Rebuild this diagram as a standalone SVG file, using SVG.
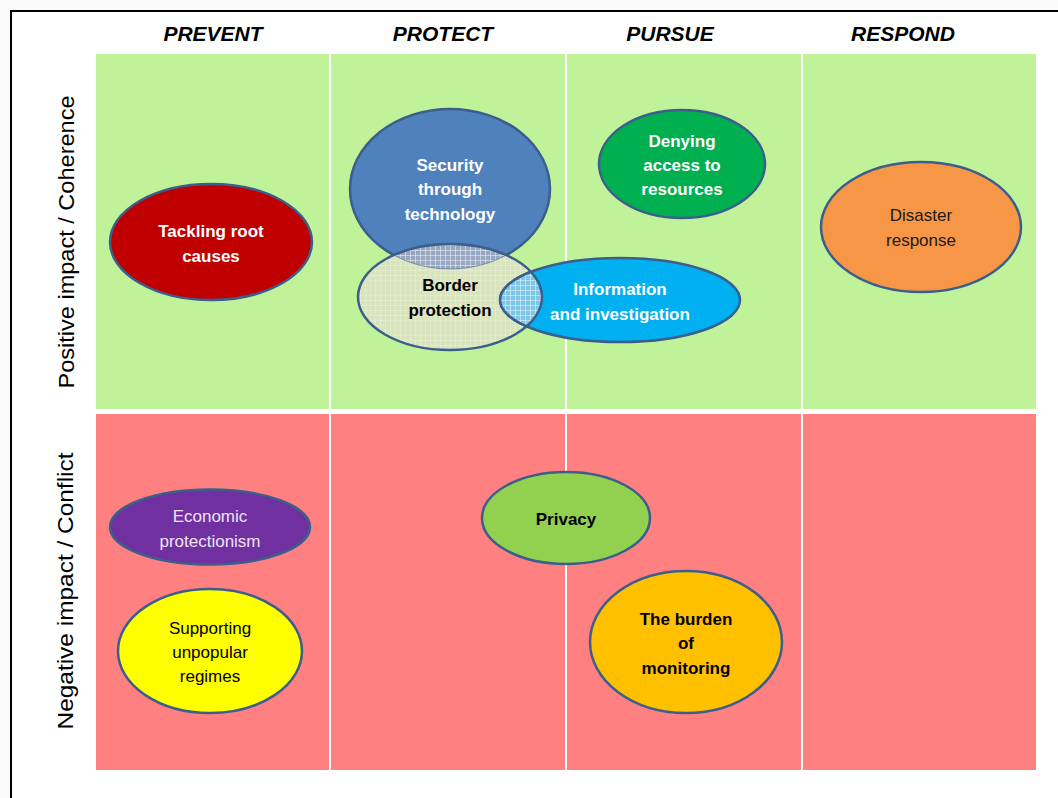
<svg xmlns="http://www.w3.org/2000/svg" width="1058" height="798" viewBox="0 0 1058 798">
<style>
.hdr{font-family:"Liberation Sans",Arial,sans-serif;font-size:21px;font-weight:bold;font-style:italic;fill:#000;text-anchor:middle}
.side{font-family:"Liberation Sans",Arial,sans-serif;font-size:22px;fill:#000;text-anchor:middle}
.el{stroke:#3B5E8C;stroke-width:2.5}
.t{font-family:"Liberation Sans",Arial,sans-serif;font-size:17px;text-anchor:middle}
.b{font-weight:bold}
.w{fill:#fff}
.k{fill:#000}
</style>
<defs>
<pattern id="grid" width="5" height="5" patternUnits="userSpaceOnUse">
<path d="M0 0.5H5M0.5 0V5" stroke="#ffffff" stroke-opacity="0.45" stroke-width="1" fill="none"/>
</pattern>
<pattern id="gridFaint" width="5" height="5" patternUnits="userSpaceOnUse">
<path d="M0 0.5H5M0.5 0V5" stroke="#ffffff" stroke-opacity="0.2" stroke-width="1" fill="none"/>
</pattern>
<clipPath id="clipBorder"><ellipse cx="450" cy="297" rx="92" ry="53"/></clipPath>
</defs>
<rect x="0" y="0" width="1058" height="798" fill="#fafafa"/>
<rect x="11" y="11" width="1100" height="900" fill="#fff" stroke="#000" stroke-width="2"/>
<g id="headers">
<text class="hdr" x="213" y="41">PREVENT</text>
<text class="hdr" x="443" y="41">PROTECT</text>
<text class="hdr" x="670" y="41">PURSUE</text>
<text class="hdr" x="903" y="41">RESPOND</text>
</g>
<g id="side-labels">
<text class="side" transform="translate(74,242) rotate(-90)" textLength="293" lengthAdjust="spacingAndGlyphs">Positive  impact / Coherence</text>
<text class="side" transform="translate(73,591) rotate(-90)" textLength="277" lengthAdjust="spacingAndGlyphs">Negative impact / Conflict</text>
</g>
<g id="grid-bg">
<rect x="96" y="54" width="940" height="355" fill="#C0F29A"/>
<rect x="96" y="414" width="940" height="356" fill="#FF8080"/>
<rect x="329" y="54" width="2" height="716" fill="#fff"/>
<rect x="565" y="54" width="2" height="716" fill="#fff"/>
<rect x="801" y="54" width="2" height="716" fill="#fff"/>
</g>
<g id="connectors"></g>
<g id="n-tackling">
<ellipse class="el" cx="211" cy="242" rx="101" ry="58" fill="#C00000"/>
<text class="t b w" x="211" y="237">Tackling root</text>
<text class="t b w" x="211" y="262">causes</text>
</g>
<g id="n-security">
<ellipse class="el" cx="450" cy="189" rx="100" ry="80" fill="#4F81BD"/>
</g>
<g id="n-border">
<ellipse cx="450" cy="297" rx="92" ry="53" fill="#D8E4BC"/>
<ellipse cx="450" cy="297" rx="92" ry="53" fill="url(#gridFaint)"/>
<g clip-path="url(#clipBorder)">
<ellipse cx="450" cy="189" rx="100" ry="80" fill="#98A8C2"/>
<ellipse cx="450" cy="189" rx="100" ry="80" fill="url(#grid)"/>
</g>
</g>
<g id="n-info">
<ellipse class="el" cx="620" cy="300" rx="120" ry="42" fill="#00B0F0"/>
<g clip-path="url(#clipBorder)">
<ellipse cx="620" cy="300" rx="120" ry="42" fill="#7CC7E6"/>
<ellipse cx="620" cy="300" rx="120" ry="42" fill="url(#grid)"/>
<ellipse cx="620" cy="300" rx="120" ry="42" fill="none" stroke="#3B5E8C" stroke-width="2.5"/>
</g>
<ellipse class="el" cx="450" cy="297" rx="92" ry="53" fill="none"/>
<ellipse cx="450" cy="189" rx="100" ry="80" fill="none" stroke="#3B5E8C" stroke-width="1" stroke-opacity="0.5" clip-path="url(#clipBorder)"/>
<text class="t b w" x="620" y="295">Information</text>
<text class="t b w" x="620" y="320">and investigation</text>
</g>
<g id="labels-protect">
<text class="t b w" x="450" y="171">Security</text>
<text class="t b w" x="450" y="195">through</text>
<text class="t b w" x="450" y="220">technology</text>
<text class="t b k" x="450" y="291">Border</text>
<text class="t b k" x="450" y="316">protection</text>
</g>
<g id="n-denying">
<ellipse class="el" cx="682" cy="164" rx="83" ry="54" fill="#00B050"/>
<text class="t b w" x="682" y="147">Denying</text>
<text class="t b w" x="682" y="171">access to</text>
<text class="t b w" x="682" y="195">resources</text>
</g>
<g id="n-disaster">
<ellipse class="el" cx="921" cy="227" rx="100" ry="65" fill="#F79646"/>
<text class="t" x="921" y="221" fill="#1a1a1a">Disaster</text>
<text class="t" x="921" y="246" fill="#1a1a1a">response</text>
</g>
<g id="n-economic">
<ellipse class="el" cx="210" cy="527" rx="100" ry="37.5" fill="#7030A0"/>
<text class="t" x="210" y="522" fill="#EDE3F5">Economic</text>
<text class="t" x="210" y="547" fill="#EDE3F5">protectionism</text>
</g>
<g id="n-supporting">
<ellipse class="el" cx="210" cy="651" rx="92" ry="62" fill="#FFFF00"/>
<text class="t k" x="210" y="634">Supporting</text>
<text class="t k" x="210" y="658">unpopular</text>
<text class="t k" x="210" y="682">regimes</text>
</g>
<g id="n-privacy">
<ellipse class="el" cx="566" cy="518" rx="84" ry="46" fill="#92D050"/>
<text class="t b k" x="566" y="525">Privacy</text>
</g>
<g id="n-burden">
<ellipse class="el" cx="686" cy="642" rx="96" ry="71" fill="#FFC000"/>
<text class="t b k" x="686" y="625">The burden</text>
<text class="t b k" x="686" y="649">of</text>
<text class="t b k" x="686" y="674">monitoring</text>
</g>
</svg>
